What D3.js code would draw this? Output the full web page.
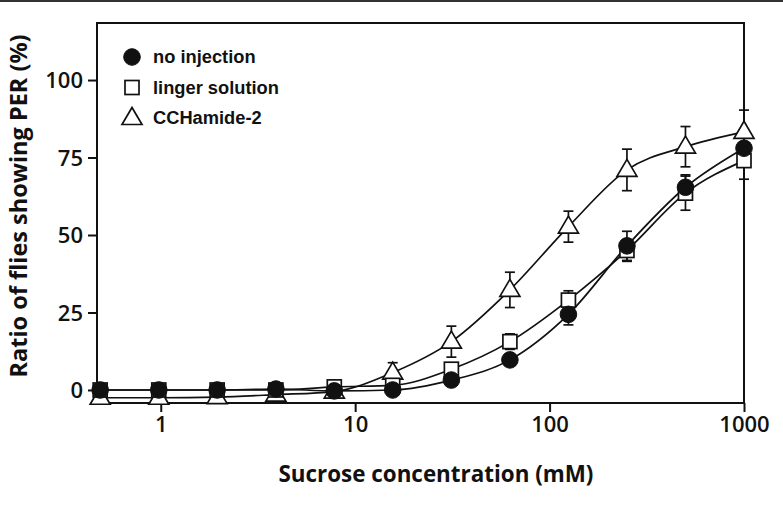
<!DOCTYPE html>
<html>
<head>
<meta charset="utf-8">
<script src="https://cdn.jsdelivr.net/npm/d3@7"></script>
<style>
  body { margin: 0; background: #fff; }
  svg { display: block; }
</style>
</head>
<body>
<div id="chart"></div>
<script>
// sucrose concentrations (mM), two-fold dilutions from 1000
const concentrations = [0.488, 0.977, 1.95, 3.91, 7.81, 15.6, 31.25, 62.5, 125, 250, 500, 1000];

const noInjection = [0, 0, 0, 0.3, -0.3, 0, 3.2, 9.7, 24.4, 46.5, 65.4, 78];
const noInjectionErr = [0, 0, 0, 0, 0, 0, 0.8, 1, 3.4, 4.7, 4, 4];

const lingerSolution = [0, 0, 0, 0, 1, 1.5, 6.7, 15.6, 29, 45, 63.5, 74];
const lingerSolutionErr = [0, 0, 0, 0, 0.5, 0.5, 2, 2.5, 3, 3.5, 5.5, 6];

const ccHamide2 = [-2.5, -2.5, -2.3, -1.5, -0.5, 5.6, 15.6, 32.3, 52.7, 71, 78.5, 83.3];
const ccHamide2Err = [0, 0, 0, 0, 0.5, 3.2, 5, 5.7, 5, 6.7, 6.5, 7];

const yTicks = [0, 25, 50, 75, 100];
const xTicks = [1, 10, 100, 1000];

const seriesNames = ["no injection", "linger solution", "CCHamide-2"];

const width = 783;
const height = 520;
const margin = { top: 23, right: 39, bottom: 117, left: 97 };

const svg = d3
  .select("#chart")
  .append("svg")
  .attr("width", width)
  .attr("height", height);

// thin page border at the very top
svg
  .append("line")
  .attr("x1", 0)
  .attr("x2", width)
  .attr("y1", 1)
  .attr("y2", 1)
  .attr("stroke", "#333")
  .attr("stroke-width", 2);

const x = d3
  .scaleLog()
  .domain([0.47, 1000])
  .range([margin.left, width - margin.right]);

const y = d3
  .scaleLinear()
  .domain([-4.2, 118.4])
  .range([height - margin.bottom, margin.top]);

const ink = "#111";

// frame
svg
  .append("rect")
  .attr("x", margin.left)
  .attr("y", margin.top)
  .attr("width", width - margin.right - margin.left)
  .attr("height", height - margin.bottom - margin.top)
  .attr("fill", "none")
  .attr("stroke", ink)
  .attr("stroke-width", 2);

// axes
const xAxis = svg
  .append("g")
  .attr("transform", `translate(0,${height - margin.bottom})`)
  .call(
    d3.axisBottom(x).tickValues(xTicks).tickFormat(d3.format("d")).tickSize(9).tickPadding(4)
  );

const yAxis = svg
  .append("g")
  .attr("transform", `translate(${margin.left},0)`)
  .call(d3.axisLeft(y).tickValues(yTicks).tickSize(9).tickPadding(5));

[xAxis, yAxis].forEach((g) => {
  g.select(".domain").remove();
  g.selectAll("line").attr("stroke", ink).attr("stroke-width", 2);
  g.selectAll("text")
    .attr("fill", ink)
    .style("font-family", "'Open Sans', sans-serif")
    .style("font-weight", 600)
    .style("font-size", "22px");
});
yAxis.selectAll("text").attr("dy", "0.36em");

// axis titles
svg
  .append("text")
  .attr("x", 436)
  .attr("y", 482)
  .attr("text-anchor", "middle")
  .attr("fill", ink)
  .style("font-family", "'Open Sans', sans-serif")
  .style("font-weight", 700)
  .style("font-size", "22.4px")
  .text("Sucrose concentration (mM)");

svg
  .append("text")
  .attr("transform", "translate(27,206) rotate(-90)")
  .attr("text-anchor", "middle")
  .attr("fill", ink)
  .style("font-family", "'Open Sans', sans-serif")
  .style("font-weight", 700)
  .style("font-size", "23.5px")
  .text("Ratio of flies showing PER (%)");

// marker shapes
const triPath = "M0,-10.5L10,6.5L-10,6.5Z";
const drawMarker = (sel, kind) => {
  if (kind === 0) {
    sel.append("circle").attr("r", 8.3).attr("fill", ink).attr("stroke", ink);
  } else if (kind === 1) {
    sel
      .append("rect")
      .attr("x", -7)
      .attr("y", -7)
      .attr("width", 14)
      .attr("height", 14)
      .attr("fill", "#fff")
      .attr("stroke", ink)
      .attr("stroke-width", 1.7);
  } else {
    sel.append("path").attr("d", triPath).attr("fill", "#fff").attr("stroke", ink).attr("stroke-width", 1.7);
  }
};

const series = [
  { kind: 0, values: noInjection, errs: noInjectionErr },
  { kind: 1, values: lingerSolution, errs: lingerSolutionErr },
  { kind: 2, values: ccHamide2, errs: ccHamide2Err },
];

const line = d3
  .line()
  .x((d) => x(d[0]))
  .y((d) => y(d[1]))
  .curve(d3.curveMonotoneX);

// curves
series.forEach((s) => {
  const pts = concentrations.map((c, i) => [c, s.values[i]]);
  svg
    .append("path")
    .attr("d", line(pts))
    .attr("fill", "none")
    .attr("stroke", ink)
    .attr("stroke-width", 1.7);
});

// error bars
series.forEach((s) => {
  const g = svg.append("g").attr("stroke", ink).attr("stroke-width", 1.7);
  concentrations.forEach((c, i) => {
    const e = s.errs[i];
    if (!e) return;
    const cx = x(c);
    const y0 = y(s.values[i] - e);
    const y1 = y(s.values[i] + e);
    g.append("line").attr("x1", cx).attr("x2", cx).attr("y1", y0).attr("y2", y1);
    g.append("line").attr("x1", cx - 5).attr("x2", cx + 5).attr("y1", y0).attr("y2", y0);
    g.append("line").attr("x1", cx - 5).attr("x2", cx + 5).attr("y1", y1).attr("y2", y1);
  });
});

// markers: triangles, squares, then circles on top
[2, 1, 0].forEach((k) => {
  const s = series[k];
  concentrations.forEach((c, i) => {
    const g = svg.append("g").attr("transform", `translate(${x(c)},${y(s.values[i])})`);
    drawMarker(g, s.kind);
  });
});

// legend
const legend = svg.append("g").attr("transform", "translate(132,57)");
seriesNames.forEach((name, i) => {
  const row = legend.append("g").attr("transform", `translate(0,${i * 30.5})`);
  drawMarker(row, i);
  row
    .append("text")
    .attr("x", 21)
    .attr("dy", "0.35em")
    .attr("fill", ink)
    .style("font-family", "'Liberation Sans', Arial, sans-serif")
    .style("font-weight", 700)
    .style("font-size", "18.3px")
    .text(name);
});
</script>
</body>
</html>
